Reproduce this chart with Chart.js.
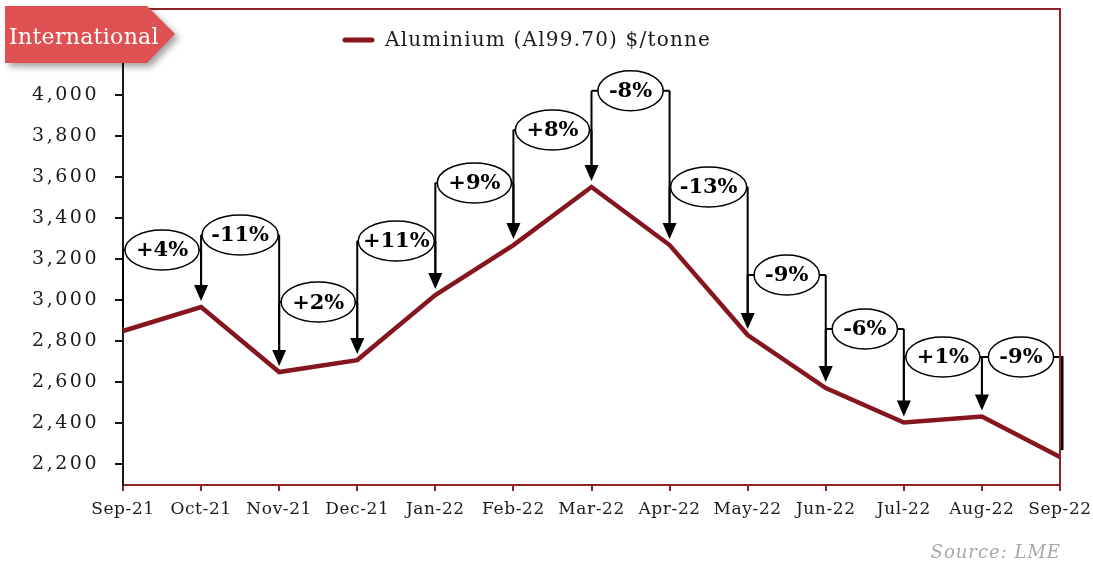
<!DOCTYPE html>
<html>
<head>
<meta charset="utf-8">
<script src="https://cdn.jsdelivr.net/npm/chart.js@4.4.1/dist/chart.umd.min.js"></script>
<style>
  html, body { margin: 0; padding: 0; background: #fff; }
  #wrap { width: 1093px; height: 563px; position: relative; }
</style>
</head>
<body>
<div id="wrap"><canvas id="c" width="1093" height="563"></canvas></div>
<script>
// ---- data ----
const categories = ['Sep-21','Oct-21','Nov-21','Dec-21','Jan-22','Feb-22','Mar-22','Apr-22','May-22','Jun-22','Jul-22','Aug-22','Sep-22'];
const aluminium = [2849, 2966, 2649, 2707, 3024, 3268, 3551, 3268, 2829, 2571, 2403, 2432, 2234];
const changeLabels = ['+4%','-11%','+2%','+11%','+9%','+8%','-8%','-13%','-9%','-6%','+1%','-9%'];
const changeLevels = [3244, 3317, 2990, 3288, 3571, 3829, 4020, 3551, 3122, 2859, 2722, 2722];
const yTickValues = [2200, 2400, 2600, 2800, 3000, 3200, 3400, 3600, 3800, 4000, 4200];
const seriesLabel = 'Aluminium (Al99.70) $/tonne';
const badgeText = 'International';
const sourceText = 'Source: LME';

const LINE_RED = '#85161F';
const FRAME_RED = '#8E2228';
const FONT = "'DejaVu Serif', Georgia, serif";

function spaced(ctx, px) { if ('letterSpacing' in ctx) ctx.letterSpacing = px + 'px'; }

const letterSpacingPlugin = {
  id: 'lsp',
  beforeDraw(chart) {
    const ctx = chart.ctx;
    [['x', 0.6], ['y', 2.5]].forEach(([id, sp]) => {
      const s = chart.scales[id];
      if (s && !s._lspWrapped) {
        const orig = s.drawLabels.bind(s);
        s.drawLabels = function (area) {
          ctx.save(); spaced(ctx, sp); orig(area); ctx.restore();
        };
        s._lspWrapped = true;
      }
    });
  }
};

const annotationsPlugin = {
  id: 'annots',
  afterDatasetsDraw(chart) {
    const ctx = chart.ctx, xs = chart.scales.x, ys = chart.scales.y;
    const off = 6, headLen = 16, headHalf = 7, ry = 20;
    ctx.save();
    ctx.strokeStyle = '#000';
    ctx.fillStyle = '#000';
    ctx.lineWidth = 2;
    ctx.font = 'bold 21px ' + FONT;
    for (let k = 0; k < changeLabels.length; k++) {
      const xi = xs.getPixelForValue(k), xj = xs.getPixelForValue(k + 1);
      const yi = ys.getPixelForValue(aluminium[k]), yj = ys.getPixelForValue(aluminium[k + 1]);
      const L = ys.getPixelForValue(changeLevels[k]);
      const tw = ctx.measureText(changeLabels[k]).width;
      const w = Math.min(xj - xi - 2, tw + 22);
      const cx = (xi + xj) / 2;
      const last = k === changeLabels.length - 1;
      const leftEnd = k === 0 ? yi - 4 : yi - off - headLen;
      ctx.beginPath(); ctx.moveTo(xi, L); ctx.lineTo(xi, Math.max(L, leftEnd)); ctx.stroke();
      ctx.beginPath();
      ctx.moveTo(xi, L); ctx.lineTo(cx - w / 2, L);
      ctx.moveTo(cx + w / 2, L); ctx.lineTo(xj + (last ? 2 : 0), L);
      ctx.stroke();
      if (last) {
        ctx.save(); ctx.lineWidth = 3;
        ctx.beginPath(); ctx.moveTo(xj + 2, L - 1); ctx.lineTo(xj + 2, yj - 7); ctx.stroke();
        ctx.restore();
      } else {
        const tip = yj - off;
        ctx.beginPath(); ctx.moveTo(xj, L); ctx.lineTo(xj, tip - headLen + 1); ctx.stroke();
        ctx.beginPath();
        ctx.moveTo(xj, tip); ctx.lineTo(xj - headHalf, tip - headLen); ctx.lineTo(xj + headHalf, tip - headLen);
        ctx.closePath(); ctx.fill();
      }
    }
    for (let k = 0; k < changeLabels.length; k++) {
      const xi = xs.getPixelForValue(k), xj = xs.getPixelForValue(k + 1);
      const L = ys.getPixelForValue(changeLevels[k]);
      const tw = ctx.measureText(changeLabels[k]).width;
      const w = Math.min(xj - xi - 2, tw + 22);
      const cx = (xi + xj) / 2;
      ctx.beginPath();
      ctx.ellipse(cx, L, w / 2, ry, 0, 0, Math.PI * 2);
      ctx.fillStyle = '#fff'; ctx.fill();
      ctx.lineWidth = 1.5; ctx.strokeStyle = '#000'; ctx.stroke();
      ctx.fillStyle = '#000';
      ctx.textAlign = 'center'; ctx.textBaseline = 'middle';
      ctx.fillText(changeLabels[k], cx, L + 1);
    }
    ctx.restore();
  },
  afterDraw(chart) {
    const ctx = chart.ctx, a = chart.chartArea;
    ctx.save();
    ctx.strokeStyle = FRAME_RED; ctx.lineWidth = 2;
    ctx.beginPath();
    ctx.moveTo(a.left, a.top); ctx.lineTo(a.right, a.top); ctx.lineTo(a.right, a.bottom);
    ctx.stroke();
    // legend
    ctx.strokeStyle = LINE_RED; ctx.lineWidth = 5; ctx.lineCap = 'round';
    ctx.beginPath(); ctx.moveTo(345, 40); ctx.lineTo(372, 40); ctx.stroke();
    ctx.fillStyle = '#1a1a1a';
    ctx.font = '20px ' + FONT;
    ctx.textAlign = 'left'; ctx.textBaseline = 'middle';
    spaced(ctx, 1.2);
    ctx.fillText(seriesLabel, 385, 41);
    spaced(ctx, 0);
    // source
    ctx.fillStyle = '#A8A8A8';
    ctx.font = 'italic 18px ' + FONT;
    ctx.textAlign = 'right'; ctx.textBaseline = 'alphabetic';
    spaced(ctx, 1);
    ctx.fillText(sourceText, 1061, 558);
    spaced(ctx, 0);
    // badge
    ctx.save();
    ctx.shadowColor = 'rgba(0,0,0,0.35)';
    ctx.shadowBlur = 6; ctx.shadowOffsetX = 4; ctx.shadowOffsetY = 4;
    ctx.fillStyle = '#DF5052';
    ctx.beginPath();
    ctx.moveTo(5, 6); ctx.lineTo(147, 6); ctx.lineTo(175, 34); ctx.lineTo(147, 63); ctx.lineTo(5, 63);
    ctx.closePath(); ctx.fill();
    ctx.restore();
    ctx.fillStyle = '#fff';
    ctx.font = '22px ' + FONT;
    ctx.textAlign = 'left'; ctx.textBaseline = 'middle';
    spaced(ctx, 0.3);
    ctx.fillText(badgeText, 9, 38);
    ctx.restore();
  }
};

new Chart(document.getElementById('c'), {
  type: 'line',
  data: {
    labels: categories,
    datasets: [{
      label: seriesLabel,
      data: aluminium,
      borderColor: LINE_RED,
      backgroundColor: LINE_RED,
      borderWidth: 4.5,
      pointRadius: 0,
      tension: 0,
      borderJoinStyle: 'miter',
      fill: false
    }]
  },
  options: {
    responsive: false,
    animation: false,
    devicePixelRatio: 1,
    layout: { autoPadding: false, padding: { left: 0, right: 33, top: 9, bottom: 0 } },
    plugins: { legend: { display: false }, tooltip: { enabled: false } },
    scales: {
      x: {
        offset: false,
        grid: { display: true, drawOnChartArea: false, drawTicks: true, tickLength: 6, color: FRAME_RED, lineWidth: 2 },
        border: { display: true, color: FRAME_RED, width: 2 },
        ticks: { color: '#1a1a1a', font: { family: FONT, size: 17 }, padding: 8, maxRotation: 0, autoSkip: false },
        afterFit(s) { s.height = 78; s.paddingLeft = 0; s.paddingRight = 0; s.paddingTop = 0; s.paddingBottom = 0; }
      },
      y: {
        min: 2098, max: 4419,
        afterBuildTicks(s) { s.ticks = yTickValues.map(v => ({ value: v })); },
        grid: { display: true, drawOnChartArea: false, drawTicks: true, tickLength: 8, color: '#111', lineWidth: 2 },
        border: { display: true, color: '#1a1a1a', width: 2 },
        ticks: { color: '#1a1a1a', font: { family: FONT, size: 19 }, padding: 16,
          callback: v => Number(v).toLocaleString('en-US') },
        afterFit(s) { s.width = 123; s.paddingLeft = 0; s.paddingRight = 0; s.paddingTop = 0; s.paddingBottom = 0; }
      }
    }
  },
  plugins: [letterSpacingPlugin, annotationsPlugin]
});
</script>
</body>
</html>
